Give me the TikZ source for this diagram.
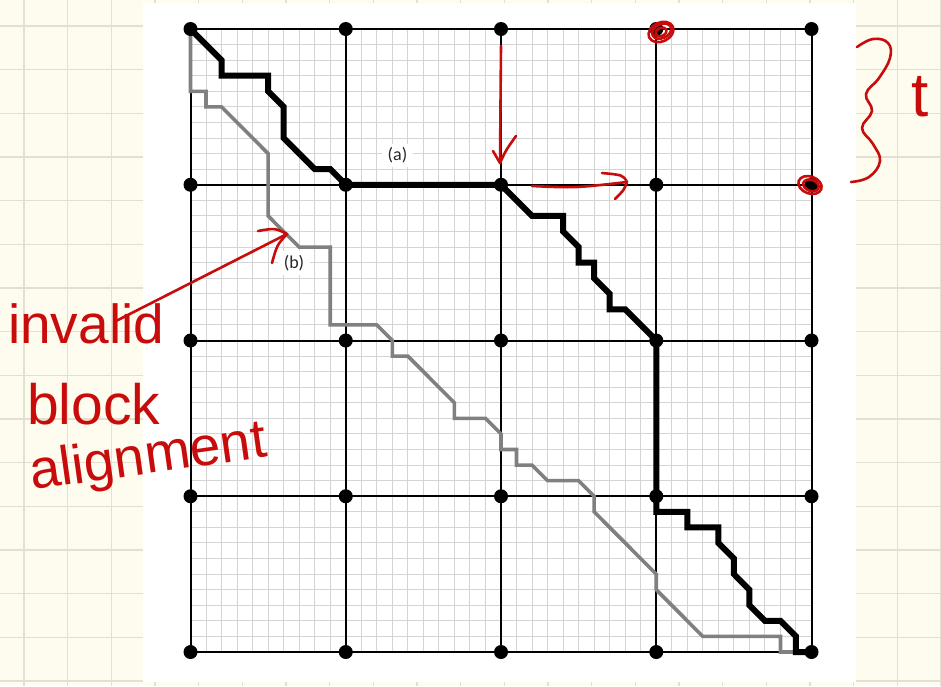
\documentclass[tikz,border=0pt]{standalone}
\usepackage{fontspec}
\newfontfamily\handfont{Liberation Sans}
\newfontfamily\labfont{Carlito}
\definecolor{paper}{RGB}{254,252,238}
\definecolor{paperline}{RGB}{226,224,210}
\definecolor{finecol}{RGB}{212,212,212}
\definecolor{pathgray}{RGB}{128,128,128}
\definecolor{penred}{RGB}{200,12,12}
\tikzset{
  finegrid/.style={draw=finecol, line width=1pt},
  mainline/.style={draw=black, line width=2pt},
  dot/.style={circle, fill=black, minimum size=14pt, inner sep=0pt},
  blackroute/.style={draw=black, line width=6pt, line join=miter},
  grayroute/.style={draw=pathgray, line width=3.6pt, line join=miter},
  lbl/.style={fill=white, inner xsep=6pt, inner ysep=4pt, font=\labfont\fontsize{18}{20}\selectfont, text=black!85},
  ink/.style={draw=penred, line width=2.6pt, line cap=round, line join=round},
  handtext/.style={text=penred, font=\handfont\fontsize{55}{60}\selectfont, inner sep=0pt},
}
\begin{document}
\begin{tikzpicture}[x=1pt, y=-1pt]
\useasboundingbox (0,0) rectangle (941,686);
% notebook paper
\fill[paper] (0,0) rectangle (941,686);
\foreach \k in {0,...,21} \draw[paperline, line width=1.2pt] ({24+43.67*\k},0) -- ++(0,686);
\foreach \k in {0,...,15} \draw[paperline, line width=1.2pt] (0,{26+43.67*\k}) -- ++(941,0);
\fill[white] (143,3) rectangle (856,682);

\begin{scope}[shift={(190.5pt,-29pt)}, x=15.525pt, y=-15.575pt]
  \foreach \i in {0,...,40} {
    \draw[finegrid] (\i,0) -- (\i,40);
    \draw[finegrid] (0,\i) -- (40,\i);
  }
  \foreach \i in {0,10,...,40} {
    \draw[mainline] (\i,0) -- (\i,40);
    \draw[mainline] (0,\i) -- (40,\i);
  }
  \foreach \i in {0,...,4} \foreach \j in {0,...,4}
    \coordinate (c\i\j) at (10*\i,10*\j);
  % gray route (b)
  \draw[grayroute] (c00) -- (0,4) -- (1,4) -- (1,5) -- (2,5) -- (5,8) -- (5,12) -- (7,14) -- (9,14) -- (9,19)
    -- (12,19) -- (13,20) -- (13,21) -- (14,21) -- (17,24) -- (17,25) -- (19,25) -- (20,26) -- (20,27)
    -- (21,27) -- (21,28) -- (22,28) -- (23,29) -- (25,29) -- (26,30) -- (26,31) -- (30,35) -- (30,36)
    -- (33,39) -- (38,39) -- (38,40) -- (c44);
  % black route (a)
  \draw[blackroute] (c00) -- (2,2) -- (2,3) -- (5,3) -- (5,4) -- (6,5) -- (6,7) -- (8,9) -- (9,9) -- (c11)
    -- (c21) -- (22,12) -- (24,12) -- (24,13) -- (25,14) -- (25,15) -- (26,15) -- (26,16) -- (27,17)
    -- (27,18) -- (28,18) -- (c32) -- (c33) -- (30,31) -- (32,31) -- (32,32) -- (34,32) -- (34,33)
    -- (35,34) -- (35,35) -- (36,36) -- (36,37) -- (37,38) -- (38,38) -- (39,39) -- (39,40) -- (c44);
  \foreach \i in {0,...,4} \foreach \j in {0,...,4}
    \node[dot] (d\i\j) at (c\i\j) {};
\end{scope}

\node[lbl] (laba) at (397.5,155.5) {(a)};
\node[lbl] (labb) at (294,263) {(b)};

% red annotations
\coordinate (dntop) at (501,46);
\coordinate (dntip) at (500,163);
\draw[ink] (dntop) -- (dntip);
\draw[ink] (493,151) .. controls (496,157) .. (dntip) .. controls (506,150) .. (516,136);

\coordinate (rttail) at (532,186);
\coordinate (rttip) at (627,182);
\draw[ink] (rttail) .. controls (575,188) .. (rttip);
\draw[ink] (602,173) .. controls (623,175) .. (rttip) .. controls (624,190) .. (615,199);

\draw[ink, rotate around={25:(661,32)}] (661,32) ellipse [x radius=13pt, y radius=9.5pt];
\draw[ink, rotate around={25:(661,32)}] (662,31.5) ellipse [x radius=10pt, y radius=7pt];
\draw[ink, rotate around={25:(661,32)}] (661,32) ellipse [x radius=6pt, y radius=4pt];
\draw[ink, rotate around={-20:(810,185)}] (810,185) ellipse [x radius=12pt, y radius=8.5pt];
\draw[ink, rotate around={-20:(810,185)}] (811,185) ellipse [x radius=8pt, y radius=5.5pt];

\draw[ink] plot[smooth, tension=0.7] coordinates {(857,47) (873,39) (888,43) (890,58) (879,78) (866,94) (872,111) (862,128) (873,144) (880,161) (869,177) (851,182)};
\node[handtext, font=\handfont\fontsize{62}{66}\selectfont] (tlab) at (920,97) {t};

\node[handtext, anchor=base west] (inv) at (8,343) {invalid};
\node[handtext, anchor=base west, font=\handfont\fontsize{57}{60}\selectfont] (blk) at (27,424) {block};
\node[handtext, anchor=base west, rotate=8] (aln) at (32,490) {alignment};

\coordinate (iatail) at (116,321);
\coordinate (iatip) at (287,234);
\draw[ink] (iatail) -- (iatip);
\draw[ink] (258,231) .. controls (275,228) .. (iatip) .. controls (277,245) .. (272,263);
\end{tikzpicture}
\end{document}
